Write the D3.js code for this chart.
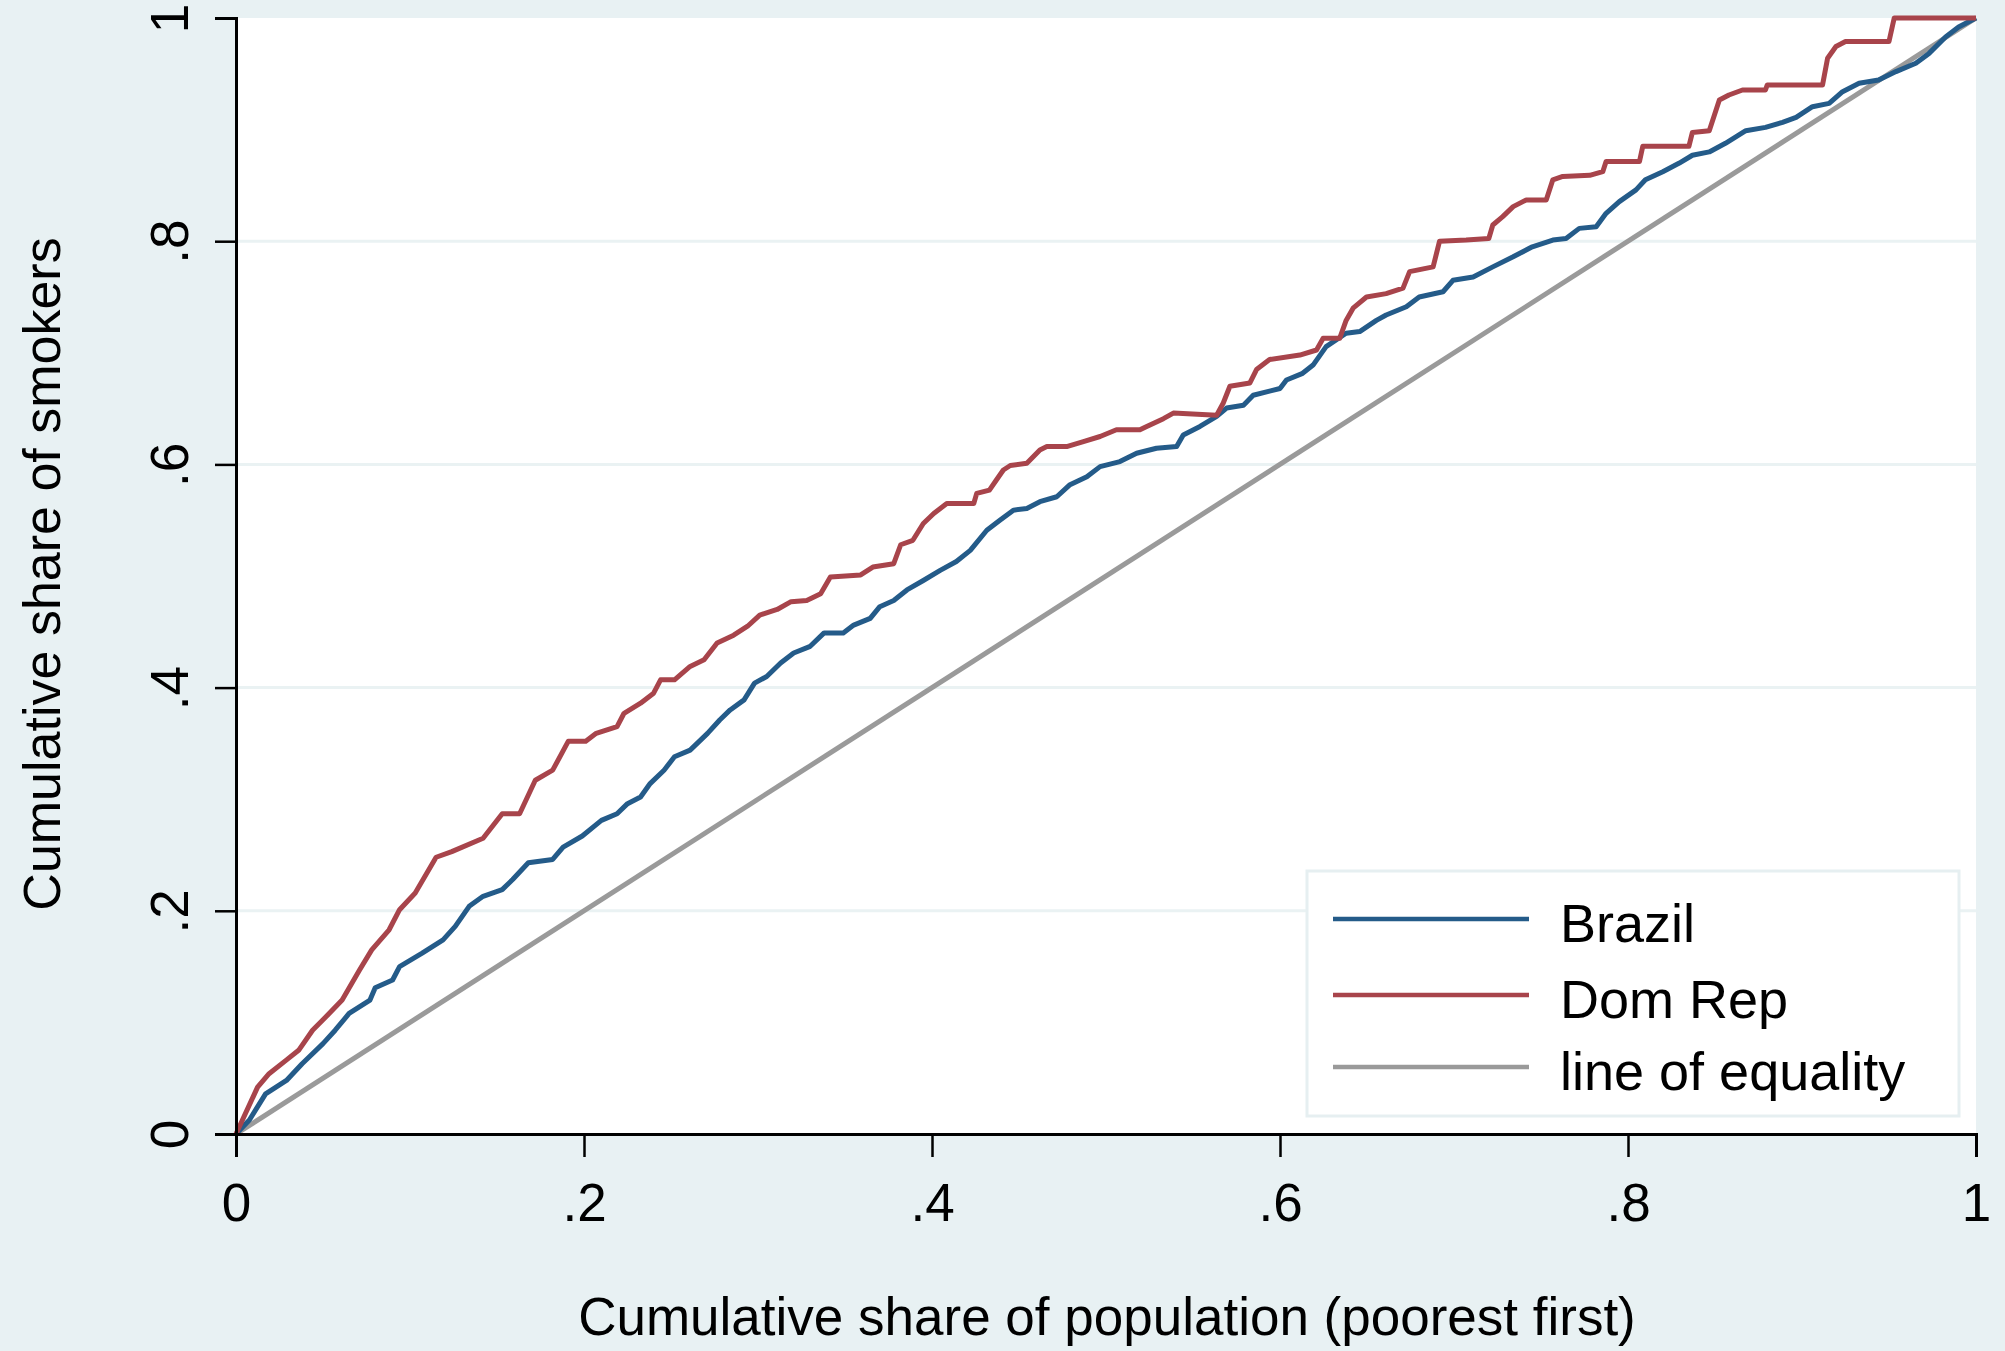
<!DOCTYPE html>
<html>
<head>
<meta charset="utf-8">
<script src="https://cdn.jsdelivr.net/npm/d3@7"></script>
<style>
  html, body { margin: 0; padding: 0; background: #e8f1f3; }
  svg text { font-family: "Liberation Sans", Arial, sans-serif; fill: #000; }
</style>
</head>
<body>
<svg id="chart" width="2005" height="1351"></svg>
<script>
// concentration curves
const brazilX = [0, 0.0077, 0.017, 0.029, 0.038, 0.050, 0.057, 0.065, 0.077, 0.080, 0.090, 0.094, 0.107, 0.119, 0.126, 0.134, 0.142, 0.153, 0.159, 0.168, 0.182, 0.188, 0.199, 0.210, 0.219, 0.225, 0.2325, 0.238, 0.246, 0.252, 0.261, 0.271, 0.278, 0.284, 0.292, 0.298, 0.305, 0.313, 0.3205, 0.330, 0.338, 0.349, 0.355, 0.3645, 0.370, 0.378, 0.3856, 0.395, 0.4047, 0.414, 0.422, 0.4315, 0.439, 0.4468, 0.4545, 0.462, 0.4717, 0.479, 0.489, 0.4966, 0.508, 0.5176, 0.529, 0.5406, 0.5444, 0.554, 0.5636, 0.5693, 0.579, 0.5846, 0.600, 0.6037, 0.613, 0.619, 0.6265, 0.638, 0.6458, 0.6554, 0.661, 0.6726, 0.680, 0.6937, 0.6994, 0.711, 0.7223, 0.734, 0.745, 0.7568, 0.7644, 0.772, 0.7817, 0.7874, 0.795, 0.8046, 0.810, 0.820, 0.8295, 0.837, 0.8467, 0.856, 0.8677, 0.879, 0.8888, 0.8966, 0.906, 0.9156, 0.9233, 0.9328, 0.944, 0.954, 0.9654, 0.973, 0.9825, 0.990, 1];
const brazilY = [0, 0.0125, 0.036, 0.048, 0.063, 0.081, 0.093, 0.108, 0.120, 0.131, 0.138, 0.150, 0.162, 0.174, 0.186, 0.204, 0.213, 0.219, 0.228, 0.243, 0.246, 0.257, 0.267, 0.281, 0.287, 0.296, 0.302, 0.314, 0.326, 0.338, 0.344, 0.359, 0.371, 0.380, 0.389, 0.404, 0.410, 0.422, 0.431, 0.437, 0.449, 0.449, 0.456, 0.462, 0.4725, 0.478, 0.4875, 0.496, 0.505, 0.513, 0.523, 0.541, 0.550, 0.559, 0.5605, 0.5666, 0.571, 0.5815, 0.589, 0.598, 0.6025, 0.610, 0.6145, 0.616, 0.6264, 0.634, 0.643, 0.6505, 0.653, 0.662, 0.668, 0.6756, 0.6816, 0.689, 0.7055, 0.7175, 0.719, 0.729, 0.7339, 0.7413, 0.750, 0.7547, 0.765, 0.768, 0.777, 0.786, 0.795, 0.801, 0.8025, 0.8115, 0.813, 0.825, 0.8355, 0.846, 0.855, 0.8623, 0.870, 0.877, 0.880, 0.8877, 0.899, 0.902, 0.9065, 0.911, 0.9205, 0.9235, 0.934, 0.9415, 0.9444, 0.952, 0.9594, 0.9683, 0.983, 0.992, 1];

const domRepX = [0, 0.0124, 0.019, 0.0287, 0.036, 0.044, 0.0517, 0.061, 0.071, 0.078, 0.088, 0.094, 0.103, 0.115, 0.124, 0.142, 0.153, 0.163, 0.172, 0.182, 0.191, 0.201, 0.207, 0.219, 0.223, 0.2325, 0.240, 0.244, 0.252, 0.261, 0.269, 0.2765, 0.286, 0.294, 0.301, 0.311, 0.319, 0.328, 0.336, 0.3416, 0.359, 0.366, 0.378, 0.382, 0.389, 0.395, 0.401, 0.4085, 0.424, 0.4257, 0.433, 0.437, 0.441, 0.445, 0.4545, 0.462, 0.466, 0.4774, 0.487, 0.4966, 0.506, 0.5195, 0.5234, 0.533, 0.5387, 0.5636, 0.5674, 0.5712, 0.5827, 0.5865, 0.594, 0.6114, 0.621, 0.6248, 0.6343, 0.638, 0.642, 0.6497, 0.661, 0.6707, 0.6745, 0.688, 0.6917, 0.707, 0.720, 0.7223, 0.728, 0.734, 0.7415, 0.753, 0.7568, 0.7625, 0.778, 0.7855, 0.7874, 0.8066, 0.8085, 0.835, 0.837, 0.8467, 0.8525, 0.858, 0.8658, 0.879, 0.880, 0.9118, 0.9147, 0.9195, 0.925, 0.950, 0.953, 1];
const domRepY = [0, 0.042, 0.054, 0.066, 0.075, 0.093, 0.105, 0.120, 0.147, 0.165, 0.183, 0.201, 0.216, 0.248, 0.253, 0.265, 0.287, 0.287, 0.317, 0.326, 0.352, 0.352, 0.359, 0.365, 0.377, 0.386, 0.395, 0.407, 0.407, 0.419, 0.425, 0.440, 0.447, 0.455, 0.465, 0.470, 0.477, 0.478, 0.484, 0.499, 0.501, 0.508, 0.511, 0.528, 0.532, 0.547, 0.556, 0.565, 0.565, 0.574, 0.577, 0.586, 0.595, 0.599, 0.601, 0.613, 0.616, 0.616, 0.6205, 0.625, 0.631, 0.631, 0.634, 0.641, 0.646, 0.644, 0.655, 0.670, 0.673, 0.685, 0.694, 0.698, 0.7025, 0.713, 0.713, 0.729, 0.740, 0.750, 0.753, 0.758, 0.7727, 0.777, 0.800, 0.801, 0.8025, 0.8145, 0.822, 0.831, 0.837, 0.837, 0.855, 0.858, 0.859, 0.8623, 0.8714, 0.8714, 0.885, 0.885, 0.8975, 0.899, 0.9265, 0.931, 0.9355, 0.9355, 0.940, 0.940, 0.964, 0.9745, 0.979, 0.979, 1.0, 1.0];

const equalityX = [0, 1];
const equalityY = [0, 1];

const seriesNames = ['Brazil', 'Dom Rep', 'line of equality'];
const seriesColors = ['#245b89', '#a8444b', '#9a9a9a'];
const tickValues = [0, 0.2, 0.4, 0.6, 0.8, 1];
const tickLabels = ['0', '.2', '.4', '.6', '.8', '1'];

const PLOT = { left: 236, right: 1976, top: 18, bottom: 1134 };

const svg = d3.select('#chart');

const x = d3.scaleLinear().domain([0, 1]).range([PLOT.left, PLOT.right]);
const y = d3.scaleLinear().domain([0, 1]).range([PLOT.bottom, PLOT.top]);

// background + plot region
svg.append('rect')
  .attr('width', 2005).attr('height', 1351)
  .attr('fill', '#e8f1f3');

svg.append('rect')
  .attr('x', PLOT.left).attr('y', PLOT.top)
  .attr('width', PLOT.right - PLOT.left)
  .attr('height', PLOT.bottom - PLOT.top)
  .attr('fill', '#ffffff');

// grid lines
svg.append('g')
  .selectAll('line')
  .data(tickValues.slice(1, -1))
  .enter()
  .append('line')
  .attr('x1', PLOT.left).attr('x2', PLOT.right)
  .attr('y1', d => y(d)).attr('y2', d => y(d))
  .attr('stroke', '#eaf2f3')
  .attr('stroke-width', 3);

// series
const series = [
  { xs: brazilX, ys: brazilY },
  { xs: domRepX, ys: domRepY },
  { xs: equalityX, ys: equalityY },
];

const line = d3.line()
  .x(d => x(d[0]))
  .y(d => y(d[1]));

// draw equality first so the curves sit on top
[2, 0, 1].forEach(i => {
  const s = series[i];
  svg.append('path')
    .datum(d3.zip(s.xs, s.ys))
    .attr('d', line)
    .attr('fill', 'none')
    .attr('stroke', seriesColors[i])
    .attr('stroke-width', 5)
    .attr('stroke-linejoin', 'round');
});

// axes
const fmt = d => tickLabels[tickValues.indexOf(d)];

const xAxis = svg.append('g')
  .attr('transform', `translate(0, ${PLOT.bottom})`)
  .call(d3.axisBottom(x).tickValues(tickValues).tickFormat(fmt).tickSize(23).tickPadding(26));

const yAxis = svg.append('g')
  .attr('transform', `translate(${PLOT.left}, 0)`)
  .call(d3.axisLeft(y).tickValues(tickValues).tickFormat(fmt).tickSize(21));

[xAxis, yAxis].forEach(g => {
  g.select('.domain').attr('stroke', '#000').attr('stroke-width', 3);
  g.selectAll('.tick line').attr('stroke', '#000').attr('stroke-width', 2.5);
  g.selectAll('.tick text')
    .attr('font-size', 53)
    .attr('font-family', '"Liberation Sans", Arial, sans-serif')
    .attr('fill', '#000');
});

xAxis.selectAll('.tick text')
  .attr('dy', null)
  .attr('y', 87);

yAxis.selectAll('.tick text')
  .attr('x', null).attr('dy', null)
  .attr('text-anchor', 'middle')
  .attr('transform', 'translate(-48, 0) rotate(-90)');

// axis titles
svg.append('text')
  .attr('x', 1107).attr('y', 1335)
  .attr('text-anchor', 'middle')
  .attr('font-size', 53)
  .text('Cumulative share of population (poorest first)');

svg.append('text')
  .attr('transform', 'translate(60, 574) rotate(-90)')
  .attr('text-anchor', 'middle')
  .attr('font-size', 52)
  .text('Cumulative share of smokers');

// legend
const legend = svg.append('g');
legend.append('rect')
  .attr('x', 1307).attr('y', 871)
  .attr('width', 652).attr('height', 245)
  .attr('fill', '#ffffff')
  .attr('stroke', '#e6eff1')
  .attr('stroke-width', 3);

const rowY = [919, 995, 1067];
const rows = legend.selectAll('g.row')
  .data(seriesNames)
  .enter()
  .append('g')
  .attr('transform', (d, i) => `translate(0, ${rowY[i]})`);

rows.append('line')
  .attr('x1', 1333).attr('x2', 1529)
  .attr('stroke', (d, i) => seriesColors[i])
  .attr('stroke-width', 4.5);

rows.append('text')
  .attr('x', 1560).attr('y', 23)
  .attr('font-size', 54)
  .text(d => d);
</script>
</body>
</html>
